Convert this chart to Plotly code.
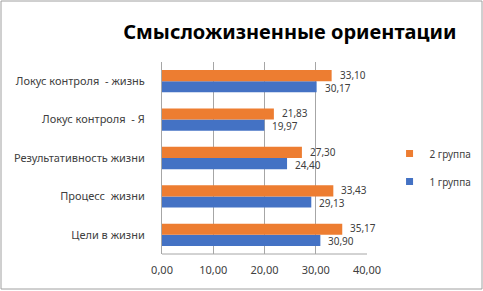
import plotly.graph_objects as go

categories = ["Цели в жизни", "Процесс  жизни", "Результативность жизни",
              "Локус контроля  - Я", "Локус контроля  - жизнь"]
group1 = [30.90, 29.13, 24.40, 19.97, 30.17]
group2 = [35.17, 33.43, 27.30, 21.83, 33.10]
series_names = ["1 группа", "2 группа"]
tick_vals = [0, 10, 20, 30, 40]

cat_labels = [c.replace("  ", "\u00a0\u00a0") for c in categories]

FONT = "Noto Sans, sans-serif"
fig = go.Figure()
series = [(series_names[0], group1, "#4472C4", 2, -6.5),
          (series_names[1], group2, "#ED7D31", 1, 6.5)]
annotations = []
for name, vals, color, rank, yshift in series:
    fig.add_trace(go.Bar(
        y=cat_labels, x=vals, name=name, orientation="h",
        marker=dict(color=color, line=dict(width=0)),
        showlegend=False, hoverinfo="x+name",
    ))
    # legend entry with a small square marker
    fig.add_trace(go.Scatter(
        x=[None], y=[None], mode="markers", name=name, legendrank=rank,
        legendgroup=name,
        marker=dict(symbol="square", size=7, color=color),
    ))
    for cat, v in zip(cat_labels, vals):
        annotations.append(dict(
            x=v, y=cat, xref="x", yref="y", text=f"{v:.2f}".replace(".", ","),
            showarrow=False, xanchor="left", yanchor="middle",
            xshift=7, yshift=yshift, borderpad=0,
            font=dict(size=10, color="#404040", family=FONT),
        ))

fig.update_layout(
    width=483, height=291,
    margin=dict(l=162, r=116, t=62, b=37, autoexpand=False),
    paper_bgcolor="white", plot_bgcolor="white",
    separators=", ",
    barmode="group", bargap=0.42, bargroupgap=0,
    title=dict(text="<b>Смысложизненные ориентации</b>", x=0.6, xanchor="center",
               y=0.89, yanchor="middle",
               font=dict(size=20, color="#000000", family=FONT)),
    legend=dict(x=1.11, y=0.45, xanchor="left", yanchor="middle",
                traceorder="grouped",
                font=dict(size=10, color="#404040", family=FONT),
                itemwidth=30, tracegroupgap=9),
    font=dict(family=FONT),
    annotations=annotations,
    xaxis=dict(range=[0, 40], tickvals=tick_vals, tickformat=".2f",
               showgrid=True, gridcolor="#A6A6A6", gridwidth=1,
               zeroline=False, showline=False, automargin=False,
               tickfont=dict(size=11, color="#404040", family=FONT), ticklen=0,
               ticks="", ticklabelstandoff=8),
    yaxis=dict(showgrid=False, zeroline=False, showline=True, linecolor="#A6A6A6",
               automargin=False,
               tickfont=dict(size=11, color="#404040", family=FONT), ticks="",
               ticklabelstandoff=14),
    shapes=[
        dict(type="line", xref="paper", yref="paper", x0=0, x1=1, y0=0, y1=0,
             line=dict(color="#A6A6A6", width=1)),
        dict(type="rect", xref="paper", yref="paper",
             x0=(1 - 162) / 205, x1=(482 - 162) / 205,
             y0=(254 - 289) / 192, y1=(254 - 1) / 192,
             line=dict(color="#A0A0A0", width=1)),
    ],
)
fig.write_html("out.html", config={"displayModeBar": False})
with open("out.html", encoding="utf-8") as f:
    html = f.read()
html = html.replace("<body>", '<body style="margin:0;padding:0;">', 1)
with open("out.html", "w", encoding="utf-8") as f:
    f.write(html)
